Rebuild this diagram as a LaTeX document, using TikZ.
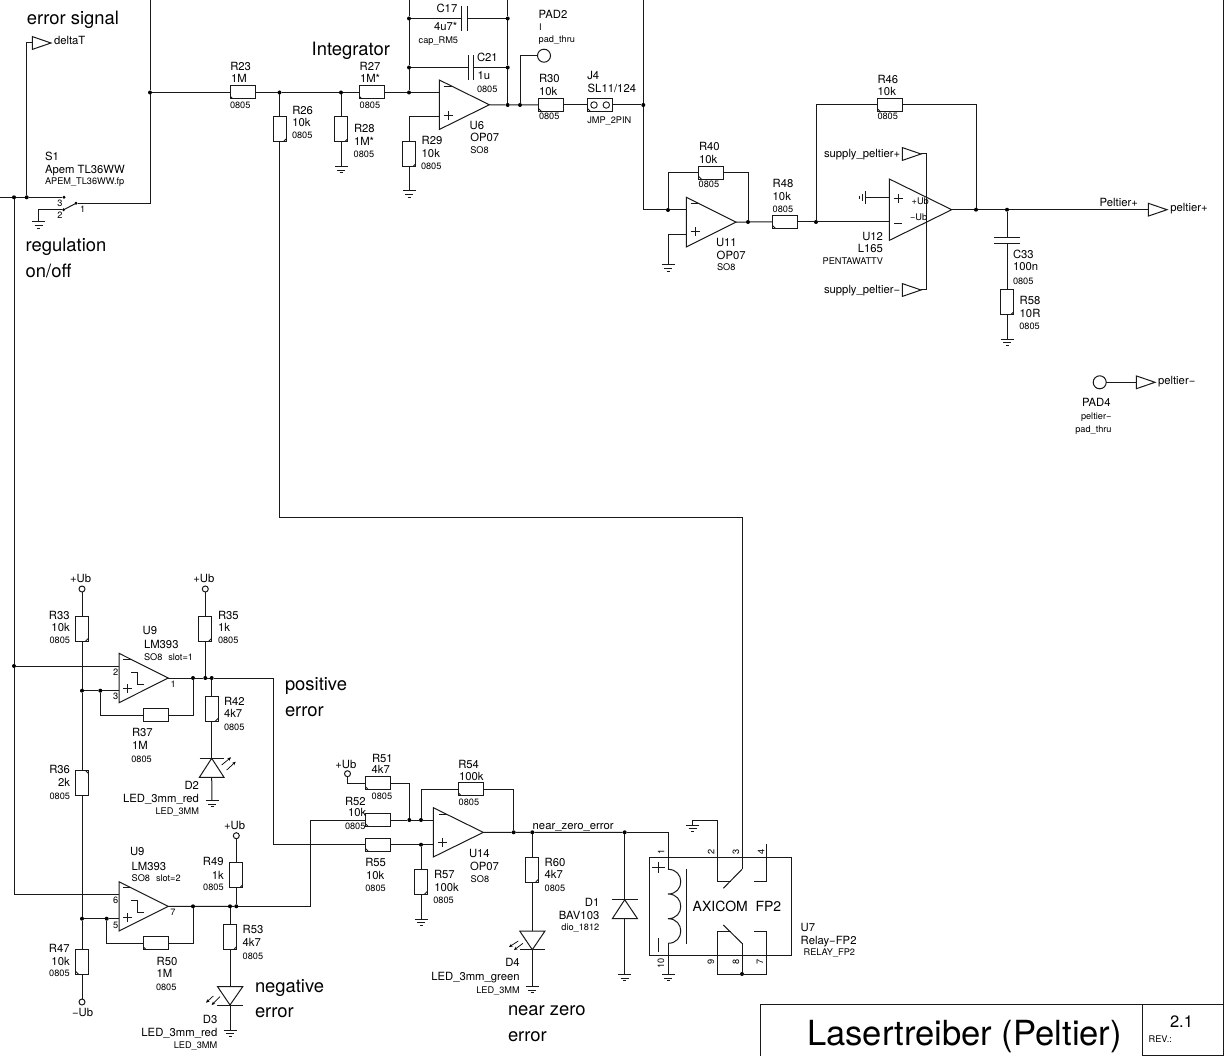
\documentclass[tikz,border=0pt]{standalone}
\usepackage{fontspec}
\setmainfont{TeX Gyre Heros}
\usetikzlibrary{arrows.meta}
\newcounter{labn}
\tikzset{
  x=1pt,y=-1pt,
  wire/.style={line width=1pt,line join=miter,color=black!90},
  sym/.style={line width=1pt,color=black!90},
  jct/.style={circle,fill=black,draw=none,inner sep=0pt,outer sep=0pt,minimum size=4pt},
  lab/.style={inner sep=0pt,outer sep=0pt,text=black},
  fxi/.style={font=\fontsize{11.3}{11.3}\selectfont},
  fxs/.style={font=\fontsize{9.2}{9.2}\selectfont},
  fxb/.style={font=\fontsize{18.4}{18.4}\selectfont},
  resh/.style={draw=black!90,line width=1pt,rectangle,minimum width=25pt,minimum height=13pt,inner sep=0pt,outer sep=0pt},
  resv/.style={draw=black!90,line width=1pt,rectangle,minimum width=13pt,minimum height=25pt,inner sep=0pt,outer sep=0pt},
  padn/.style={draw=black!90,line width=1pt,circle,minimum size=13pt,inner sep=0pt,outer sep=0pt},
  ubn/.style={draw=black!90,line width=1pt,circle,minimum size=6pt,inner sep=0pt,outer sep=0pt},
  cBL/.style={path picture={\draw[line width=.9pt] ([xshift=3pt]path picture bounding box.south west) -- ([yshift=3pt]path picture bounding box.south west);}},
  cBR/.style={path picture={\draw[line width=.9pt] ([xshift=-3pt]path picture bounding box.south east) -- ([yshift=3pt]path picture bounding box.south east);}},
  cTR/.style={path picture={\draw[line width=.9pt] ([xshift=-3pt]path picture bounding box.north east) -- ([yshift=-3pt]path picture bounding box.north east);}},
  ray/.style={line width=.7pt,-{Stealth[length=3.6pt,width=3.2pt]}},
}
\newcommand\TT[4][base west]{\stepcounter{labn}\node[lab,fxi,anchor=#1] (lab\arabic{labn}) at (#2,#3) {#4};}
\newcommand\FP[4][base west]{\stepcounter{labn}\node[lab,fxs,anchor=#1] (lab\arabic{labn}) at (#2,#3) {#4};}
\newcommand\BG[3]{\stepcounter{labn}\node[lab,fxb,anchor=base west] (lab\arabic{labn}) at (#1,#2) {#3};}
\newcommand\RP[3]{\stepcounter{labn}\node[lab,fxs,rotate=90,anchor=center] (lab\arabic{labn}) at (#1,#2) {#3};}
\newcommand\gndat[3]{\coordinate (#1) at (#2,#3);
  \draw[sym] (#2-6.5,#3) -- (#2+6.5,#3);
  \draw[sym,line width=.9pt] (#2-4,#3+3.3) -- (#2+4,#3+3.3);
  \draw[sym,line width=.9pt] (#2-1.5,#3+6) -- (#2+1.5,#3+6);}
\newcommand\flagat[3]{\coordinate (#1-in) at (#2,#3); \coordinate (#1-tip) at (#2+18.7,#3);
  \draw[sym,line join=miter] (#2,#3-6.4) -- (#2,#3+6.4) -- (#2+18.7,#3) -- cycle;}
% name, x, ytop, ybot, xtip
\newcommand\opamp[5]{\coordinate (#1-tip) at (#5,{(#3+#4)/2});
  \draw[sym,line join=miter] (#2,#3) -- (#2,#4) -- (#5,{(#3+#4)/2}) -- cycle;}
\newcommand\plusm[2]{\draw[sym] (#1-4.5,#2) -- (#1+4.5,#2) (#1,#2-4.5) -- (#1,#2+4.5);}
\newcommand\minusm[2]{\draw[sym] (#1-4,#2) -- (#1+4,#2);}
\newcommand\stepm[2]{\draw[sym] (#1,#2) -- (#1+6.7,#2) -- (#1+6.7,#2+12.2) -- (#1+13.3,#2+12.2);}
\begin{document}
\begin{tikzpicture}
\useasboundingbox (0,0) rectangle (1225,1056);
% ---- frame and title block
\coordinate (frT) at (1223,0); \coordinate (frB) at (1223,1056);
\draw[wire] (frT) -- (frB);
\coordinate (tbA) at (760.3,1056); \coordinate (tbB) at (760.3,1004.3); \coordinate (tbC) at (1223,1004.3);
\draw[wire] (tbA) -- (tbB) -- (tbC);
\coordinate (tbD) at (1142.7,1004.3); \coordinate (tbE) at (1142.7,1056);
\draw[wire] (tbD) -- (tbE);
\coordinate (tbF) at (1142.7,1055); \coordinate (tbG) at (1223,1055);
\draw[wire] (tbF) -- (tbG);
\stepcounter{labn}\node[lab,anchor=base west,font=\fontsize{34.6}{34.6}\selectfont] (title) at (807,1045) {Lasertreiber (Peltier)};
\node[lab,anchor=base west,font=\fontsize{16.5}{16.5}\selectfont] (rev) at (1170,1027.7) {2.1};
\FP{1148.7}{1042}{REV.:}
% ---- junctions (top)
\node[jct] (jA) at (150,92.5) {};
\node[jct] (j26) at (279.5,92.5) {};
\node[jct] (j28) at (341,92.5) {};
\node[jct] (j27) at (409,92.5) {};
\node[jct] (j17L) at (409,18.5) {};
\node[jct] (j21L) at (409,67.5) {};
\node[jct] (j17R) at (507.7,18.5) {};
\node[jct] (j21R) at (507.7,67.5) {};
\node[jct] (jO6) at (507.7,105) {};
\node[jct] (jP2) at (520,105) {};
\node[jct] (jJ4) at (643.3,105) {};
\node[jct] (jR40) at (668,210) {};
\node[jct] (jO11) at (748,222) {};
\node[jct] (jR46) at (816,222) {};
\node[jct] (jO12) at (976,209.7) {};
\node[jct] (jC33) at (1007,209.7) {};
\node[jct] (jL1) at (14,197.3) {};
\node[jct] (jL2) at (26.7,197.3) {};
\node[jct,minimum size=3.2pt] (swC) at (64,197.3) {};
\node[jct,minimum size=3.2pt] (swG) at (63.7,209.7) {};
\node[jct,minimum size=3.2pt] (swP) at (76,203.3) {};
% ---- resistors (top)
\node[resh,cBL] (R23) at (242.5,92.5) {};
\node[resh,cBL] (R27) at (371.5,92.5) {};
\node[resv,cBR] (R26) at (279.5,129.5) {};
\node[resv,cBR] (R28) at (341,129.5) {};
\node[resv,cBR] (R29) at (409,154.5) {};
\node[resh,cBL] (R30) at (551,105) {};
\node[resh,cBL,minimum width=25pt] (J4) at (600,105) {};
\node[circle,draw=black!90,line width=.9pt,minimum size=6.5pt,inner sep=0pt] (J4a) at (594,105) {};
\node[circle,draw=black!90,line width=.9pt,minimum size=6.5pt,inner sep=0pt] (J4b) at (606.3,105) {};
\node[resh,cBL] (R40) at (711,172.7) {};
\node[resh,cBL] (R48) at (785,222) {};
\node[resh,cBL] (R46) at (889.7,105) {};
\node[resv,cBR] (R58) at (1007,302.5) {};
\node[padn] (PAD2) at (544,55.7) {};
\node[padn] (PAD4) at (1099.7,382.3) {};
% ---- opamps and flags (top)
\opamp{U6}{439.3}{80}{129.5}{489.3}
\plusm{448}{116} \minusm{448}{87}
\opamp{U11}{686.3}{197.3}{247}{736}
\plusm{695}{232} \minusm{694.7}{204}
\opamp{U12}{889.3}{179}{240.4}{951.7}
\plusm{898}{199} \minusm{898}{223.3}
\flagat{fD}{32.3}{43}
\flagat{fSP}{902.3}{154}
\flagat{fSM}{902.3}{290}
\flagat{fPP}{1148.3}{209.7}
\flagat{fPM}{1136.3}{382.3}
% ---- grounds (top)
\gndat{g28}{341}{166.7}
\gndat{g29}{409}{191}
\gndat{g11}{668}{265}
\gndat{g58}{1007}{339}
\gndat{gS}{38.7}{222}
% ---- wires (top)
\coordinate (tA) at (150,0); \coordinate (tB) at (409,0); \coordinate (tC) at (507.7,0); \coordinate (tD) at (643.3,0);
\coordinate (lA) at (0,197.3);
\draw[wire] (tA) -- (jA) |- (swP);
\draw[wire] (jA) -- (R23.west);
\draw[wire] (R23.east) -- (j26) -- (j28) -- (R27.west);
\draw[wire] (R27.east) -- (j27);
\draw[wire] (j26) -- (R26.north);
\draw[wire] (j28) -- (R28.north);
\draw[wire] (R28.south) -- (g28);
\draw[wire] (tB) -- (j17L) -- (j21L) -- (j27);
\coordinate (U6m) at (439.3,92.5); \coordinate (U6p) at (439.3,117);
\draw[wire] (j27) -- (U6m);
\draw[wire] (U6p) -| (R29.north);
\draw[wire] (R29.south) -- (g29);
\draw[wire] (tC) -- (j17R) -- (j21R) -- (jO6);
\draw[wire] (U6-tip) -- (jO6) -- (jP2) -- (R30.west);
\draw[wire] (R30.east) -- (J4.west);
\draw[wire] (J4.east) -- (jJ4);
\draw[wire] (jP2) |- (PAD2.west);
\coordinate (c17a) at (461,18.5); \coordinate (c17b) at (467.5,18.5);
\draw[wire] (j17L) -- (c17a); \draw[wire] (c17b) -- (j17R);
\draw[sym] (461,6) -- (461,31); \draw[sym] (467.5,6) -- (467.5,31);
\coordinate (c21a) at (468,67.5); \coordinate (c21b) at (473,67.5);
\draw[wire] (j21L) -- (c21a); \draw[wire] (c21b) -- (j21R);
\draw[sym] (468,55.5) -- (468,80.5); \draw[sym] (473,55.5) -- (473,80.5);
\coordinate (U11m) at (686.3,210); \coordinate (U11p) at (686.3,234.7);
\draw[wire] (tD) -- (jJ4) |- (jR40);
\draw[wire] (jR40) -- (U11m);
\draw[wire] (jR40) |- (R40.west);
\draw[wire] (R40.east) -| (jO11);
\draw[wire] (U11-tip) -- (jO11) -- (R48.west);
\draw[wire] (R48.east) -- (jR46);
\draw[wire] (U11p) -| (g11);
\coordinate (U12m) at (889.3,222);
\draw[wire] (jR46) -- (U12m);
\draw[wire] (jR46) |- (R46.west);
\draw[wire] (R46.east) -| (jO12);
\draw[wire] (U12-tip) -- (jO12) -- (jC33) -- (fPP-in);
\coordinate (U12g) at (889.3,197.3); \coordinate (U12h) at (865.5,197.3);
\draw[wire] (U12g) -- (U12h);
\draw[sym] (865.5,191) -- (865.5,203.6);
\draw[sym,line width=.9pt] (862.2,194) -- (862.2,200.6);
\draw[sym,line width=.9pt] (859.8,196) -- (859.8,198.6);
\coordinate (supR) at (926.7,154); \coordinate (supS) at (926.7,290);
\draw[wire] (fSP-tip) -- (supR) -- (supS) -- (fSM-tip);
\coordinate (c33t) at (1007,237.3); \coordinate (c33b) at (1007,243.7);
\draw[wire] (jC33) -- (c33t); \draw[wire] (c33b) -- (R58.north);
\draw[sym] (994,237.3) -- (1020,237.3); \draw[sym] (994,243.7) -- (1020,243.7);
\draw[wire] (R58.south) -- (g58);
\draw[wire] (PAD4.east) -- (fPM-in);
\draw[wire] (lA) -- (jL1) -- (jL2) -- (swC);
\draw[wire] (jL2) |- (fD-in);
\draw[wire] (swG) -| (gS);
\draw[sym] (swP) -- (swG);
% ---- labels (top)
\BG{27}{25}{error signal}
\TT{54}{45}{deltaT}
\BG{311.7}{55.7}{Integrator}
\TT{230.3}{71}{R23} \TT{231}{83}{1M} \FP{230}{108.3}{0805}
\TT{292.3}{114.3}{R26} \TT{292.3}{127}{10k} \FP{292}{139}{0805}
\TT{359.7}{71}{R27} \TT{360}{83}{1M*} \FP{359.7}{108.3}{0805}
\TT{354}{133}{R28} \TT{354}{145.3}{1M*} \FP{353.7}{157.3}{0805}
\TT{45}{161}{S1} \TT{45}{173.3}{Apem TL36WW} \FP{45}{185}{APEM\_TL36WW.fp}
\FP{57.3}{206.3}{3} \FP{57.3}{219}{2} \FP{80}{212.7}{1}
\BG{25.7}{252}{regulation} \BG{25.7}{278}{on/off}
\TT[base east]{457.3}{12.7}{C17} \TT[base east]{457.3}{30.7}{4u7*} \FP{418.7}{43.3}{cap\_RM5}
\TT{477}{61.7}{C21} \TT{477.7}{80}{1u} \FP{477}{93}{0805}
\TT{538.7}{18.7}{PAD2} \FP{539}{31}{I} \FP{538.7}{42.7}{pad\_thru}
\TT{539}{82.7}{R30} \TT{539}{96}{10k} \FP{539}{120}{0805}
\TT{587.3}{80}{J4} \TT{587.7}{92.7}{SL11/124} \FP{587.3}{124}{JMP\_2PIN}
\TT{469.7}{129.7}{U6} \TT{470.3}{141.7}{OP07} \FP{470.3}{154}{SO8}
\TT{421.7}{144.7}{R29} \TT{421.7}{157.3}{10k} \FP{421}{170}{0805}
\TT{699}{150.7}{R40} \TT{699}{164}{10k} \FP{698.7}{188}{0805}
\TT{772.7}{187.7}{R48} \TT{772.7}{201}{10k} \FP{772.7}{212.7}{0805}
\TT{716}{247}{U11} \TT{716.7}{259.3}{OP07} \FP{717}{270.7}{SO8}
\TT{877.5}{83.3}{R46} \TT{877.7}{96}{10k} \FP{877.5}{120}{0805}
\TT{824}{157.3}{supply\_peltier+} \TT{824}{293.3}{supply\_peltier−}
\FP{911.7}{204.3}{+Ub} \FP{910}{221}{−Ub}
\TT[base east]{883}{241}{U12} \TT[base east]{883}{253}{L165} \FP[base east]{883}{265}{PENTAWATTV}
\TT{1099.7}{207}{Peltier+} \TT{1170.3}{211.7}{peltier+}
\TT{1013}{259}{C33} \TT{1013}{271}{100n} \FP{1013}{284.3}{0805}
\TT{1019.7}{305}{R58} \TT{1019.7}{318}{10R} \FP{1019.3}{330}{0805}
\TT{1158}{384}{peltier−}
\TT{1082}{406.7}{PAD4} \FP{1081}{419.3}{peltier−} \FP{1075.3}{432.3}{pad\_thru}
% ---- lower left: comparators
\node[ubn] (ub1) at (82,589) {};
\node[ubn] (ub2) at (205.3,589) {};
\node[ubn] (ub3) at (236.3,835.7) {};
\node[ubn] (ub4) at (82,1002) {};
\node[ubn] (ub5) at (347.5,773.7) {};
\node[resv,cBR] (R33) at (82,628.8) {};
\node[resv,cTR] (R36) at (82,783) {};
\node[resv,cBL] (R47) at (82,961.8) {};
\node[resv,cBR] (R35) at (205.3,628.8) {};
\node[resv,cBR] (R42) at (211.7,708.8) {};
\node[resh] (R37) at (155.7,715.3) {};
\node[resh,cBL] (R50) at (155.7,943.3) {};
\node[resv,cBR] (R49) at (236.3,875.3) {};
\node[resv,cBR] (R53) at (230,937.2) {};
\node[jct] (j82a) at (82,690.7) {};
\node[jct] (j100) at (100.3,690.7) {};
\node[jct] (j193a) at (193,678) {};
\node[jct] (j205) at (205.3,678) {};
\node[jct] (j212) at (211.7,678) {};
\node[jct] (jL3) at (14,666) {};
\node[jct] (j82b) at (82,918.7) {};
\node[jct] (j107) at (106.7,918.7) {};
\node[jct] (j193b) at (193,906.3) {};
\node[jct] (j230) at (230,906.3) {};
\node[jct] (j236) at (236.3,906.3) {};
\opamp{U9a}{119}{653.3}{702.7}{168.3}
\plusm{127.7}{688.3} \minusm{127.3}{659.3} \stepm{131}{672.3}
\opamp{U9b}{119}{881.7}{931}{168.3}
\plusm{127.7}{917.7} \minusm{127.3}{887.3} \stepm{131}{900}
\gndat{gD2}{212}{800.7}
\gndat{gD3}{230}{1030}
% D2
\coordinate (D2a) at (211.7,758.3); \coordinate (D2c) at (211.7,777.3);
\draw[sym,line join=miter] (D2a) -- (199.4,777.3) -- (224,777.3) -- cycle;
\draw[sym] (199.7,758.3) -- (224,758.3);
\draw[ray] (221.7,765) -- (231,757.3);
\draw[ray] (226.7,770) -- (235.7,761.7);
\draw[wire] (R42.south) -- (D2a);
\draw[wire] (D2c) -- (gD2);
% D3
\coordinate (D3a) at (230,986.7); \coordinate (D3c) at (230,1005);
\draw[sym,line join=miter] (217.6,986.7) -- (242.7,986.7) -- (D3c) -- cycle;
\draw[sym] (217.3,1005) -- (243,1005);
\draw[ray] (213.3,996) -- (206,1002.7);
\draw[ray] (220,996.7) -- (211.7,1005);
\draw[wire] (R53.south) -- (D3a);
\draw[wire] (D3c) -- (gD3);
% wires
\coordinate (jL4) at (14,894);
\coordinate (U9am) at (119,666); \coordinate (U9ap) at (119,690.7);
\coordinate (U9bm) at (119,894); \coordinate (U9bp) at (119,918.7);
\draw[wire] (jL1) -- (jL3) -- (jL4) -- (U9bm);
\draw[wire] (jL3) -- (U9am);
\draw[wire] (ub1) -- (R33.north);
\draw[wire] (R33.south) -- (j82a) -- (R36.north);
\draw[wire] (R36.south) -- (j82b) -- (R47.north);
\draw[wire] (R47.south) -- (ub4);
\draw[wire] (j82a) -- (j100) -- (U9ap);
\draw[wire] (j82b) -- (j107) -- (U9bp);
\draw[wire] (j100) |- (R37.west);
\draw[wire] (R37.east) -| (j193a);
\draw[wire] (j107) |- (R50.west);
\draw[wire] (R50.east) -| (j193b);
\draw[wire] (U9a-tip) -- (j193a) -- (j205) -- (j212);
\draw[wire] (U9b-tip) -- (j193b) -- (j230) -- (j236);
\draw[wire] (ub2) -- (R35.north); \draw[wire] (R35.south) -- (j205);
\draw[wire] (j212) -- (R42.north);
\draw[wire] (ub3) -- (R49.north); \draw[wire] (R49.south) -- (j236);
\draw[wire] (j230) -- (R53.north);
% middle block
\node[resh,cBL] (R51) at (377.8,783) {};
\node[resh,cBL] (R52) at (377.8,820) {};
\node[resh,cBL] (R55) at (377.8,844.7) {};
\node[resh,cBL] (R54) at (470.7,789.3) {};
\node[resv,cBR] (R57) at (421,881.8) {};
\node[resv,cBR] (R60) at (532.3,869.5) {};
\node[jct] (j409) at (409.3,820) {};
\node[jct] (j421a) at (421,820) {};
\node[jct] (j421b) at (421,844.7) {};
\node[jct] (j514) at (513.7,832.3) {};
\node[jct] (j532) at (532.3,832.3) {};
\node[jct] (j625) at (624.7,832.3) {};
\opamp{U14}{433.3}{807.7}{857}{483.3}
\plusm{442.3}{842.7} \minusm{442.7}{814}
\gndat{g57}{421}{919}
\gndat{gD4}{532.3}{986.7}
\coordinate (U14m) at (433.3,820); \coordinate (U14p) at (433.3,844.7);
\coordinate (p1) at (273,678); \coordinate (p2) at (273,844.7);
\draw[wire] (j212) -- (p1) -- (p2) -- (R55.west);
\coordinate (n1) at (310.7,906.3); \coordinate (n2) at (310.7,820);
\draw[wire] (j236) -- (n1) -- (n2) -- (R52.west);
\draw[wire] (R52.east) -- (j409) -- (j421a) -- (U14m);
\draw[wire] (R55.east) -- (j421b) -- (U14p);
\draw[wire] (ub5) |- (R51.west);
\draw[wire] (R51.east) -| (j409);
\draw[wire] (j421a) |- (R54.west);
\draw[wire] (R54.east) -| (j514);
\draw[wire] (j421b) -- (R57.north);
\draw[wire] (R57.south) -- (g57);
\draw[wire] (U14-tip) -- (j514) -- (j532) -- (j625);
\draw[wire] (j532) -- (R60.north);
% D4
\coordinate (D4a) at (532.3,931); \coordinate (D4c) at (532.3,949.7);
\draw[sym,line join=miter] (519.7,931) -- (545,931) -- (D4c) -- cycle;
\draw[sym] (520,949.7) -- (545,949.7);
\draw[ray] (518.3,941) -- (509,947);
\draw[ray] (523,943.3) -- (514,950);
\draw[wire] (R60.south) -- (D4a);
\draw[wire] (D4c) -- (gD4);
% D1
\coordinate (D1a) at (624.7,899.7); \coordinate (D1c) at (624.7,918.7);
\draw[sym,line join=miter] (D1a) -- (612.3,918.7) -- (637.5,918.7) -- cycle;
\draw[sym] (612.3,899.7) -- (637.7,899.7);
\gndat{gD1}{624.7}{974.7}
\draw[wire] (j625) -- (D1a);
\draw[wire] (D1c) -- (gD1);
% relay
\node[draw=black!90,line width=1pt,rectangle,minimum width=142pt,minimum height=98.7pt,inner sep=0pt,outer sep=0pt] (U7) at (720.7,906.35) {};
\coordinate (K1) at (668,869.3); \coordinate (K10) at (668,943.3);
\coordinate (c1) at (668,832.3);
\draw[wire] (j625) -- (c1) -- (K1);
\draw[sym] (K1) .. controls (685,869.3) and (685,894) .. (668,894)
  .. controls (685,894) and (685,918.7) .. (668,918.7)
  .. controls (685,918.7) and (685,943.3) .. (K10);
\draw[sym] (686.7,869) -- (686.7,943.5);
\draw[sym] (652,867) -- (665,867) (658.3,861.7) -- (658.3,872.7);
\draw[sym] (658.3,938.3) -- (658.3,951.7);
\gndat{gK10}{668}{974.7}
\draw[wire] (K10) -- (gK10);
\gndat{gK2}{692.7}{825}
\coordinate (K2a) at (692.7,820); \coordinate (K2b) at (717.3,820); \coordinate (K2c) at (717.3,881.7); \coordinate (K2d) at (730.7,881.7);
\draw[wire] (gK2) -- (K2a) -- (K2b) -- (K2c) -- (K2d);
\coordinate (w1) at (279.5,517); \coordinate (w2) at (742,517); \coordinate (K3) at (742,869.3);
\draw[wire] (R26.south) -- (w1) -- (w2) -- (K3);
\coordinate (K3a) at (723.3,888.3);
\draw[sym] (K3) -- (K3a);
\coordinate (K4a) at (766.3,844.3); \coordinate (K4b) at (766.3,881.7); \coordinate (K4c) at (754,881.7);
\draw[wire] (K4a) -- (K4b) -- (K4c);
\node[jct] (j742) at (742,974) {};
\coordinate (K8) at (742,943.3); \coordinate (K8a) at (723.3,925);
\coordinate (K9a) at (730.7,931); \coordinate (K9b) at (717.3,931); \coordinate (K9c) at (717.3,974);
\coordinate (K7a) at (754,931); \coordinate (K7b) at (766.3,931); \coordinate (K7c) at (766.3,974);
\draw[wire] (K9a) -- (K9b) -- (K9c) -- (K7c) -- (K7b) -- (K7a);
\draw[wire] (j742) -- (K8);
\draw[sym] (K8) -- (K8a);
\stepcounter{labn}\node[lab,anchor=base west,font=\fontsize{14}{14}\selectfont] (axi) at (692.7,911) {AXICOM\hspace{.556em}FP2};
\RP{661}{851.5}{1} \RP{711}{851.5}{2} \RP{736}{851.5}{3} \RP{761}{851.5}{4}
\RP{661}{963}{10} \RP{711}{961.5}{9} \RP{736}{961.5}{8} \RP{760}{961.5}{7}
% ---- labels (lower)
\TT{70}{582.7}{+Ub} \TT{193.3}{582.7}{+Ub} \TT{224}{829}{+Ub} \TT{335.3}{768}{+Ub} \TT{72}{1016.7}{−Ub}
\TT[base east]{69.7}{619.3}{R33} \TT[base east]{69.7}{631.7}{10k} \FP[base east]{70}{643.7}{0805}
\TT{218}{619.3}{R35} \TT{218}{631.7}{1k} \FP{218}{643.7}{0805}
\TT{142.7}{634}{U9} \TT{144}{648}{LM393} \FP{144}{660}{SO8} \FP{168.3}{660}{slot=1}
\FP{113}{675.7}{2} \FP{113}{699.3}{3} \FP{170.7}{687}{1}
\TT{132}{736.7}{R37} \TT{132}{749}{1M} \FP{131.3}{762}{0805}
\TT{224}{705.7}{R42} \TT{224}{717.3}{4k7} \FP{224}{730.7}{0805}
\TT[base east]{199}{789.3}{D2} \TT[base east]{199}{802}{LED\_3mm\_red} \FP[base east]{199}{814}{LED\_3MM}
\BG{285}{690}{positive} \BG{285}{716}{error}
\TT[base east]{70}{773.7}{R36} \TT[base east]{70}{786.3}{2k} \FP[base east]{70}{799}{0805}
\TT{130}{855.7}{U9} \TT{131.7}{870}{LM393} \FP{131.7}{881.7}{SO8} \FP{156}{881.7}{slot=2}
\TT[base east]{223.7}{865.7}{R49} \TT[base east]{223.7}{879}{1k} \FP[base east]{223.7}{890.7}{0805}
\FP{113}{903.7}{6} \FP{113}{928.3}{5} \FP{170.3}{915.3}{7}
\TT{156.7}{965}{R50} \TT{156.7}{977}{1M} \FP{156}{990}{0805}
\TT{242.7}{933.3}{R53} \TT{242.7}{946}{4k7} \FP{242.7}{959}{0805}
\TT[base east]{69.7}{952.7}{R47} \TT[base east]{69.7}{965}{10k} \FP[base east]{69.7}{976.7}{0805}
\TT[base east]{217.3}{1023.3}{D3} \TT[base east]{217.3}{1036}{LED\_3mm\_red} \FP[base east]{217.3}{1048}{LED\_3MM}
\BG{255}{992.3}{negative} \BG{255}{1017.3}{error}
\TT{372}{762.3}{R51} \TT{371.7}{773.7}{4k7} \FP{371.7}{799.3}{0805}
\TT{345}{805}{R52} \TT{348}{816.7}{10k} \FP{345}{829}{0805}
\TT{458.3}{768}{R54} \TT{459}{780.7}{100k} \FP{458.7}{805}{0805}
\TT{365.3}{866}{R55} \TT{366}{879}{10k} \FP{365.3}{891}{0805}
\TT{434}{878.7}{R57} \TT{434.3}{891}{100k} \FP{433.3}{903}{0805}
\TT{469}{857}{U14} \TT{470}{870}{OP07} \FP{470.7}{882}{SO8}
\TT{532.7}{829}{near\_zero\_error}
\TT{544.7}{866}{R60} \TT{544.7}{878.7}{4k7} \FP{544.7}{891}{0805}
\TT[base east]{599.3}{906.7}{D1} \TT[base east]{599.3}{919}{BAV103} \FP[base east]{599.3}{930.7}{dio\_1812}
\TT[base east]{519.7}{966.3}{D4} \TT[base east]{519.7}{980}{LED\_3mm\_green} \FP[base east]{519.7}{993}{LED\_3MM}
\BG{508}{1015.7}{near zero} \BG{508}{1041.7}{error}
\TT{800.7}{931}{U7} \TT{800.7}{944}{Relay−FP2} \FP{803.7}{955.7}{RELAY\_FP2}
\end{tikzpicture}
\end{document}
